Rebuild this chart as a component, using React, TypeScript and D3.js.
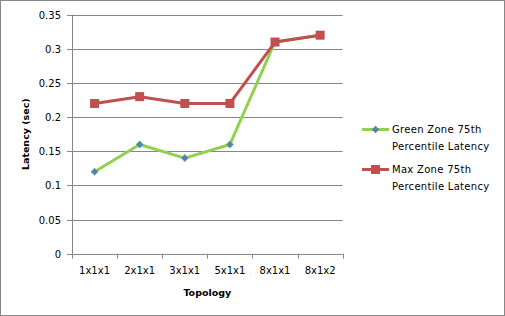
import React, { useEffect, useRef } from 'react';
import * as d3 from 'd3';

const categories = ['1x1x1', '2x1x1', '3x1x1', '5x1x1', '8x1x1', '8x1x2'];
const greenZone = [0.12, 0.16, 0.14, 0.16, 0.31, 0.32];
const maxZone = [0.22, 0.23, 0.22, 0.22, 0.31, 0.32];
const yTicks = [0, 0.05, 0.1, 0.15, 0.2, 0.25, 0.3, 0.35];

const W = 505;
const H = 316;
const FONT = 'DejaVu Sans, Verdana, sans-serif';

export default function App() {
  const ref = useRef<SVGSVGElement>(null);

  useEffect(() => {
    const svg = d3.select(ref.current);
    svg.selectAll('*').remove();

    const left = 72, right = 342.7, top = 14.7, bottom = 253.7;

    svg.append('rect')
      .attr('x', 0.5).attr('y', 0.5)
      .attr('width', W - 1).attr('height', H - 1)
      .attr('fill', '#fff').attr('stroke', '#868686');

    const x = d3.scaleBand().domain(categories).range([left, right]);
    const y = d3.scaleLinear().domain([0, 0.35]).range([bottom, top]);

    // gridlines + y ticks
    const grid = svg.append('g');
    yTicks.forEach(t => {
      const yy = Math.round(y(t)) + 0.5;
      grid.append('line')
        .attr('x1', left - 5).attr('x2', right)
        .attr('y1', yy).attr('y2', yy)
        .attr('stroke', '#868686').attr('stroke-width', 1);
      grid.append('text')
        .attr('x', left - 11).attr('y', yy + 3.5)
        .attr('text-anchor', 'end')
        .attr('font-family', FONT).attr('font-size', 10)
        .attr('fill', '#000')
        .text(d3.format('')(t));
    });

    // y axis line
    svg.append('line')
      .attr('x1', left + 0.5).attr('x2', left + 0.5)
      .attr('y1', top).attr('y2', bottom)
      .attr('stroke', '#868686');

    // x ticks + labels
    const xt = svg.append('g');
    const edges = categories.map(c => x(c)!).concat([right]);
    edges.forEach(e => {
      const xx = Math.round(e) + 0.5;
      xt.append('line')
        .attr('x1', xx).attr('x2', xx)
        .attr('y1', bottom).attr('y2', bottom + 5)
        .attr('stroke', '#868686');
    });
    categories.forEach(c => {
      xt.append('text')
        .attr('x', x(c)! + x.bandwidth() / 2).attr('y', bottom + 20.5)
        .attr('text-anchor', 'middle')
        .attr('font-family', FONT).attr('font-size', 10)
        .text(c);
    });

    // axis titles
    svg.append('text')
      .attr('x', (left + right) / 2).attr('y', 296)
      .attr('text-anchor', 'middle')
      .attr('font-family', FONT).attr('font-size', 9.5).attr('font-weight', 'bold')
      .text('Topology');
    svg.append('text')
      .attr('transform', `translate(29,${(top + bottom) / 2}) rotate(-90)`)
      .attr('text-anchor', 'middle')
      .attr('font-family', FONT).attr('font-size', 9.5).attr('font-weight', 'bold')
      .text('Latency (sec)');

    const cx = (i: number) => x(categories[i])! + x.bandwidth() / 2;
    const line = d3.line<number>().x((_, i) => cx(i)).y(d => y(d));

    // green series
    svg.append('path').datum(greenZone)
      .attr('fill', 'none').attr('stroke', '#92D050').attr('stroke-width', 3)
      .attr('stroke-linejoin', 'round')
      .attr('d', line);
    const diamond = d3.symbol().type(d3.symbolDiamond2).size(36);
    svg.append('g').selectAll('path').data(greenZone).join('path')
      .attr('transform', (d, i) => `translate(${cx(i)},${y(d)})`)
      .attr('d', diamond()!)
      .attr('fill', '#4F81BD').attr('stroke', '#92D050').attr('stroke-width', 0.5);

    // red series
    svg.append('path').datum(maxZone)
      .attr('fill', 'none').attr('stroke', '#C0504D').attr('stroke-width', 3)
      .attr('stroke-linejoin', 'round')
      .attr('d', line);
    svg.append('g').selectAll('rect').data(maxZone).join('rect')
      .attr('x', (d, i) => cx(i) - 4.5).attr('y', d => y(d) - 4.5)
      .attr('width', 9).attr('height', 9)
      .attr('fill', '#C0504D');

    // legend
    const lg = svg.append('g');
    const items = [
      { color: '#92D050', lines: ['Green Zone 75th', 'Percentile Latency'], y: 129.5, kind: 'diamond' },
      { color: '#C0504D', lines: ['Max Zone 75th', 'Percentile Latency'], y: 169.5, kind: 'square' },
    ];
    items.forEach(it => {
      lg.append('line')
        .attr('x1', 362).attr('x2', 389)
        .attr('y1', it.y).attr('y2', it.y)
        .attr('stroke', it.color).attr('stroke-width', 3);
      if (it.kind === 'diamond') {
        lg.append('path')
          .attr('transform', `translate(375.5,${it.y})`)
          .attr('d', diamond()!)
          .attr('fill', '#4F81BD');
      } else {
        lg.append('rect')
          .attr('x', 371).attr('y', it.y - 4.5)
          .attr('width', 9).attr('height', 9)
          .attr('fill', it.color);
      }
      it.lines.forEach((t, k) => {
        lg.append('text')
          .attr('x', 392).attr('y', it.y + 3.5 + k * 16.5)
          .attr('font-family', FONT).attr('font-size', 10)
          .attr('letter-spacing', 0.3)
          .text(t);
      });
    });
  }, []);

  return (
    <svg
      ref={ref}
      width={W}
      height={H}
      style={{ position: 'absolute', left: 0, top: 0, display: 'block' }}
    />
  );
}
